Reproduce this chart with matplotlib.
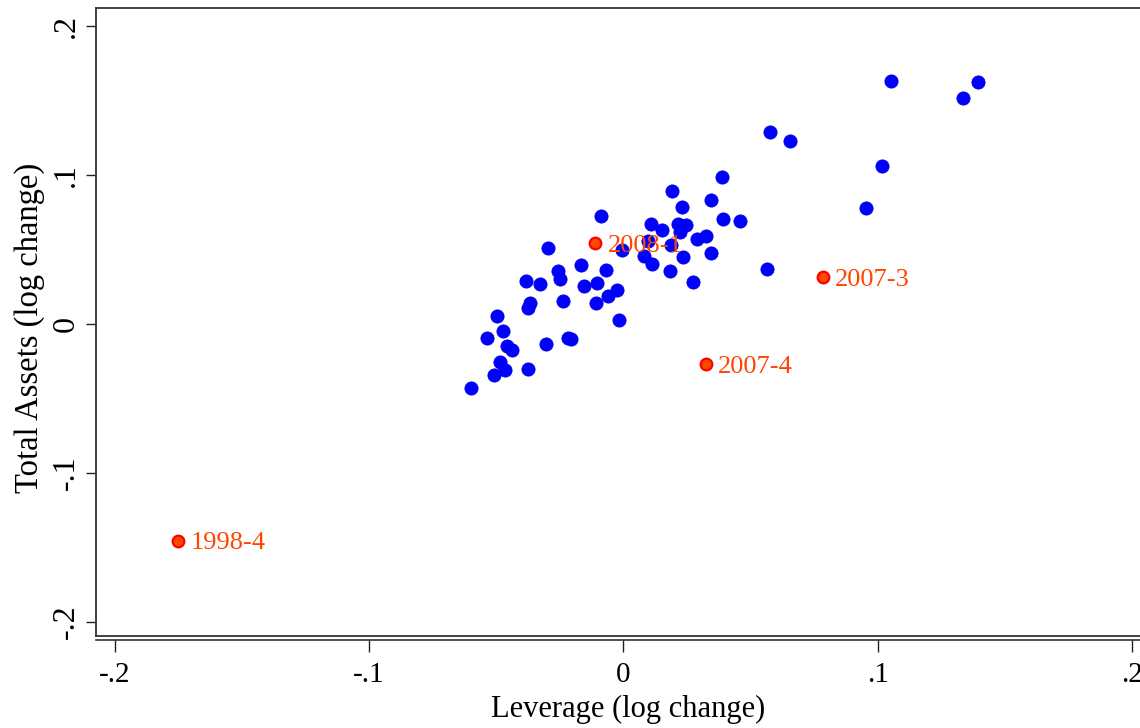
import matplotlib
matplotlib.use("Agg")
import matplotlib.pyplot as plt
from matplotlib.lines import Line2D

plt.rcParams['font.family'] = ['Liberation Serif', 'DejaVu Serif']

# quarterly log changes
leverage = [0.0388, 0.0193, 0.0343, 0.0229, -0.0088, 0.0107, 0.0213, 0.0248, 0.0150, 0.0222,
            0.0391, 0.0458, 0.0288, 0.0323, -0.0298, -0.0005, 0.0097, 0.0186, 0.0081, 0.0234,
            0.0343, 0.0111, 0.0183, 0.0274, 0.0564, -0.0256, -0.0250, -0.0168, -0.0070, -0.0383,
            -0.0328, -0.0155, -0.0105, -0.0027, -0.0060, -0.0239, -0.0108, -0.0368, -0.0373, -0.0018,
            -0.0498, -0.0472, -0.0538, -0.0459, -0.0439, -0.0306, -0.0217, -0.0206, -0.0485, -0.0466,
            -0.0508, -0.0374, -0.0599, 0.1050, 0.1395, 0.1335, 0.0576, 0.0653, 0.1017, 0.0952]
assets = [0.0989, 0.0895, 0.0832, 0.0787, 0.0727, 0.0669, 0.0671, 0.0664, 0.0629, 0.0619,
          0.0707, 0.0693, 0.0570, 0.0591, 0.0512, 0.0495, 0.0557, 0.0530, 0.0456, 0.0448,
          0.0477, 0.0405, 0.0356, 0.0282, 0.0369, 0.0356, 0.0304, 0.0394, 0.0362, 0.0291,
          0.0268, 0.0255, 0.0275, 0.0230, 0.0188, 0.0156, 0.0139, 0.0139, 0.0109, 0.0029,
          0.0054, -0.0045, -0.0094, -0.0148, -0.0174, -0.0134, -0.0092, -0.0101, -0.0253, -0.0309,
          -0.0342, -0.0300, -0.0428, 0.1631, 0.1622, 0.1515, 0.1289, 0.1228, 0.1060, 0.0777]

# highlighted quarters
hl_labels = ["2008-1", "2007-4", "2007-3", "1998-4"]
hl_leverage = [-0.0112, 0.0323, 0.0783, -0.1750]
hl_assets = [0.0542, -0.0268, 0.0313, -0.1454]

x_ticks = [-0.2, -0.1, 0, 0.1, 0.2]
x_tick_labels = ["-.2", "-.1", "0", ".1", ".2"]
y_ticks = [-0.2, -0.1, 0, 0.1, 0.2]
y_tick_labels = ["-.2", "-.1", "0", ".1", ".2"]

fig = plt.figure(figsize=(11.4, 7.28), dpi=100)
ax = fig.add_axes([0.0842, 0.1264, 0.9333, 0.8626])

ax.scatter(leverage, assets, s=90, color="#0000FF", edgecolors="#0000E0", linewidths=0.6, zorder=3)
ax.scatter(hl_leverage, hl_assets, s=70, color="#FF4A00", edgecolors="#FF0000", linewidths=1.6, zorder=4)
for lab, x, y in zip(hl_labels, hl_leverage, hl_assets):
    ax.annotate(lab, (x, y), xytext=(9, -2), textcoords="offset points",
                ha="left", va="center", fontsize=19, color="#FF4500", zorder=5)

ax.set_xlim(-0.2073, 0.2109)
ax.set_ylim(-0.2094, 0.2121)

ax.set_xticks(x_ticks)
ax.set_xticklabels(x_tick_labels)
ax.set_yticks(y_ticks)
ax.set_yticklabels(y_tick_labels, rotation=90, va="center")

frame_color = "#333333"
for side in ["top", "left", "right"]:
    ax.spines[side].set_color(frame_color)
    ax.spines[side].set_linewidth(1.3)
ax.spines["bottom"].set_position(("outward", 3))
ax.spines["bottom"].set_color("#222222")
ax.spines["bottom"].set_linewidth(1.1)
ax.add_line(Line2D([0, 1], [0, 0], transform=ax.transAxes, color=frame_color,
                   linewidth=1.3, clip_on=False))

ax.tick_params(axis="x", direction="out", length=8.5, width=1.0, color="#222222",
               labelsize=21, pad=7)
ax.tick_params(axis="y", direction="out", length=7, width=1.0, color="#222222",
               labelsize=23, pad=4)

ax.set_xlabel("Leverage (log change)", fontsize=22, labelpad=5)
ax.set_ylabel("Total Assets (log change)", fontsize=23.5)
ax.yaxis.set_label_coords(-0.048, 0.49)

fig.savefig("out.png", dpi=100)
